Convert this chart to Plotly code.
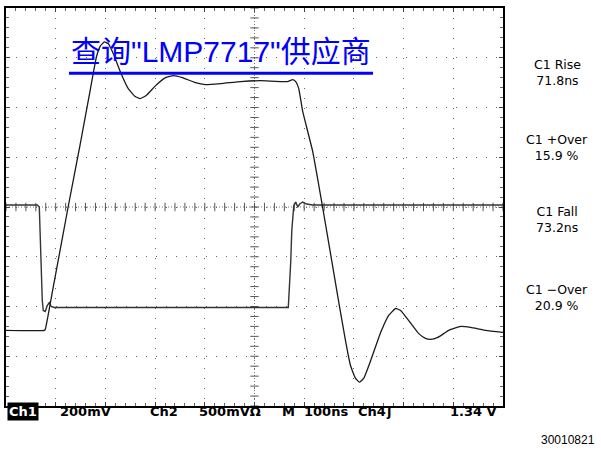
import plotly.graph_objects as go
import numpy as np

# ---- data (in screen divisions: 100 ns/div, Ch1 200 mV/div, Ch2 500 mV/div)
ch1_t = [-5.0, -4.23, -4.21, -4.07, -3.75, -3.50, -3.30, -3.18, -3.10, -3.02, -2.94, -2.84,
         -2.70, -2.54, -2.40, -2.30, -2.18, -1.99, -1.79, -1.63, -1.45, -1.19, -0.99, -0.68,
         -0.28, 0.12, 0.66, 0.77, 0.83, 0.89, 0.97, 1.17, 1.37, 1.69, 1.83, 1.93, 2.03, 2.11,
         2.20, 2.34, 2.54, 2.70, 2.84, 2.94, 3.10, 3.30, 3.44, 3.54, 3.69, 3.91, 4.15, 4.35,
         4.65, 5.0]
ch1_v = [-2.48, -2.48, -2.46, -1.72, 0.0, 1.30, 2.38, 3.02, 3.24, 3.32, 3.28, 3.08,
         2.72, 2.38, 2.22, 2.18, 2.24, 2.44, 2.60, 2.64, 2.60, 2.50, 2.46, 2.48,
         2.52, 2.54, 2.52, 2.56, 2.52, 2.38, 1.92, 1.12, 0.0, -1.88, -2.68, -3.18, -3.44, -3.52,
         -3.44, -3.08, -2.52, -2.18, -2.04, -2.08, -2.28, -2.54, -2.64, -2.66, -2.62, -2.48, -2.40, -2.42,
         -2.48, -2.52]

ch2_t = [-5.0, -4.37, -4.33, -4.31, -4.29, -4.27, -4.25, -4.21, -4.17, -4.13, -4.09, -4.03,
         0.68, 0.70, 0.73, 0.75, 0.77, 0.79, 0.83, 0.87, 0.91, 0.97, 1.05, 1.17, 5.0]
ch2_v = [0.04, 0.04, 0.0, -0.68, -1.48, -1.88, -2.08, -2.10, -1.98, -1.92, -2.00, -2.02,
         -2.02, -1.68, -1.08, -0.48, -0.08, 0.02, 0.10, 0.0, 0.06, 0.10, 0.06, 0.04, 0.04]

title_text = '查询"LMP7717"供应商'
measure_labels = ["C1 Rise<br>71.8ns", "C1 +Over<br>15.9 %", "C1 Fall<br>73.2ns", "C1 −Over<br>20.9 %"]
status_labels = ["200mV", "Ch2", "500mVΩ", "M", "100ns", "Ch4", "ʃ"]
trigger_level = "1.34 V"
figure_id = "30010821"

# ---- layout geometry
W, H = 601, 450
L, R, T, B = 6, 98, 6, 44
PW, PH = W - L - R, H - T - B


def px(xp):
    return (xp - L) / PW


def py(yp):
    return (H - B - yp) / PH


fig = go.Figure()

# centre graticule tick marks
tick_x = np.round(np.arange(-5, 5.001, 0.2), 3)
tick_y = np.round(np.arange(-4, 4.001, 0.2), 3)
fig.add_trace(go.Scatter(x=tick_x, y=np.zeros_like(tick_x), mode="markers",
                         marker=dict(symbol="line-ns", size=6, line=dict(width=1, color="#555")),
                         hoverinfo="skip", showlegend=False))
fig.add_trace(go.Scatter(x=np.zeros_like(tick_y), y=tick_y, mode="markers",
                         marker=dict(symbol="line-ew", size=6, line=dict(width=1, color="#555")),
                         hoverinfo="skip", showlegend=False))

fig.add_trace(go.Scatter(x=ch2_t, y=ch2_v, mode="lines", line=dict(color="#333", width=1.4),
                         showlegend=False))
fig.add_trace(go.Scatter(x=ch1_t, y=ch1_v, mode="lines", line=dict(color="#1a1a1a", width=1.3, shape="spline", smoothing=0.4),
                         showlegend=False))

axis_common = dict(showgrid=True, gridcolor="#666", griddash="1px,9px", gridwidth=1,
                   zeroline=False, showticklabels=False, showline=True, linecolor="black",
                   linewidth=2, mirror="ticks", ticks="inside", ticklen=4, tickcolor="#444",
                   minor=dict(ticks="inside", ticklen=3, dtick=0.2, tickcolor="#666", showgrid=False))

fig.update_xaxes(range=[-5, 5], dtick=1, tick0=0, **axis_common)
fig.update_yaxes(range=[-4, 4], dtick=1, tick0=0, **axis_common)

shapes = [
    dict(type="line", xref="x", yref="y", x0=-5, x1=5, y0=0, y1=0, line=dict(color="#777", width=1, dash="1px,2px"), layer="below"),
    dict(type="line", xref="x", yref="y", x0=0, x1=0, y0=-4, y1=4, line=dict(color="#777", width=1, dash="1px,2px"), layer="below"),
    dict(type="line", xref="paper", yref="paper", x0=px(69), x1=px(373), y0=py(71.5), y1=py(71.5),
         line=dict(color="#0000ff", width=3)),
]

annotations = [
    dict(text=title_text, x=px(69), y=py(50), xref="paper", yref="paper", xanchor="left", yanchor="middle",
         showarrow=False, font=dict(family="Liberation Sans, Noto Sans CJK SC", size=30, color="#0000ff")),
]

meas_y = [71, 146, 219, 297]
for lab, yy in zip(measure_labels, meas_y):
    annotations.append(dict(text=lab, x=px(557), y=py(yy), xref="paper", yref="paper", xanchor="center",
                            yanchor="middle", align="center", showarrow=False,
                            font=dict(family="DejaVu Sans", size=12.5, color="black")))

annotations.append(dict(text="Ch1", x=px(7), y=py(412), xref="paper", yref="paper", xanchor="left",
                        yanchor="middle", showarrow=False, bgcolor="black", borderpad=1,
                        font=dict(family="DejaVu Sans", size=13, color="white", weight="bold")))
status_x = [58, 148, 197, 280, 302, 356, 384]
for lab, xx in zip(status_labels, status_x):
    annotations.append(dict(text=lab, x=px(xx), y=py(412), xref="paper", yref="paper", xanchor="left",
                            yanchor="middle", showarrow=False,
                            font=dict(family="DejaVu Sans", size=13, color="black", weight="bold")))
annotations.append(dict(text=trigger_level, x=px(499), y=py(412), xref="paper", yref="paper", xanchor="right",
                        yanchor="middle", showarrow=False,
                        font=dict(family="DejaVu Sans", size=13, color="black", weight="bold")))

annotations.append(dict(text=figure_id, x=px(597), y=py(440), xref="paper", yref="paper", xanchor="right",
                        yanchor="middle", showarrow=False,
                        font=dict(family="Liberation Sans", size=12, color="black")))

fig.update_layout(width=W, height=H, margin=dict(l=L, r=R, t=T, b=B),
                  paper_bgcolor="white", plot_bgcolor="white",
                  shapes=shapes, annotations=annotations, showlegend=False)

fig.write_html("out.html", config={"displayModeBar": False},
               post_script="document.body.style.margin='0';document.body.style.overflow='hidden';")
